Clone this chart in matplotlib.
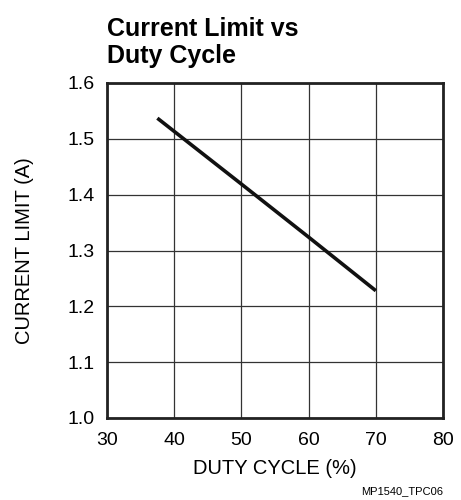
import matplotlib
matplotlib.use("Agg")
import matplotlib.pyplot as plt

plt.rcParams['font.family'] = ['Liberation Sans', 'DejaVu Sans']

duty = [37.5, 50, 60, 70]
ilim = [1.537, 1.419, 1.324, 1.228]
xticks = [30, 40, 50, 60, 70, 80]
yticks = [1.0, 1.1, 1.2, 1.3, 1.4, 1.5, 1.6]

fig = plt.figure(figsize=(4.61, 5), dpi=100)
ax = fig.add_axes([0.232, 0.164, 0.729, 0.670])
ax.plot(duty, ilim, color='#111111', lw=2.6, solid_capstyle='butt')
ax.set_xlim(30, 80)
ax.set_ylim(1.0, 1.6)
ax.set_xticks(xticks)
ax.set_yticks(yticks)
ax.set_yticklabels([f"{v:.1f}" for v in yticks])
ax.grid(True, color='#333333', lw=0.9)
ax.tick_params(length=0, labelsize=14)
ax.tick_params(axis='x', pad=10)
ax.tick_params(axis='y', pad=9)
for s in ax.spines.values():
    s.set_linewidth(2)
    s.set_color('#222222')
ax.set_xlabel("DUTY CYCLE (%)", fontsize=14.5, labelpad=7)
ax.set_ylabel("CURRENT LIMIT (A)", fontsize=14.5, labelpad=24)
fig.text(0.232, 0.873, "Current Limit vs\nDuty Cycle", fontsize=18, fontweight='bold',
         ha='left', va='baseline', linespacing=1.2)
fig.text(0.961, 0.007, "MP1540_TPC06", fontsize=8, ha='right', va='bottom')
fig.savefig("out.png", dpi=100)
